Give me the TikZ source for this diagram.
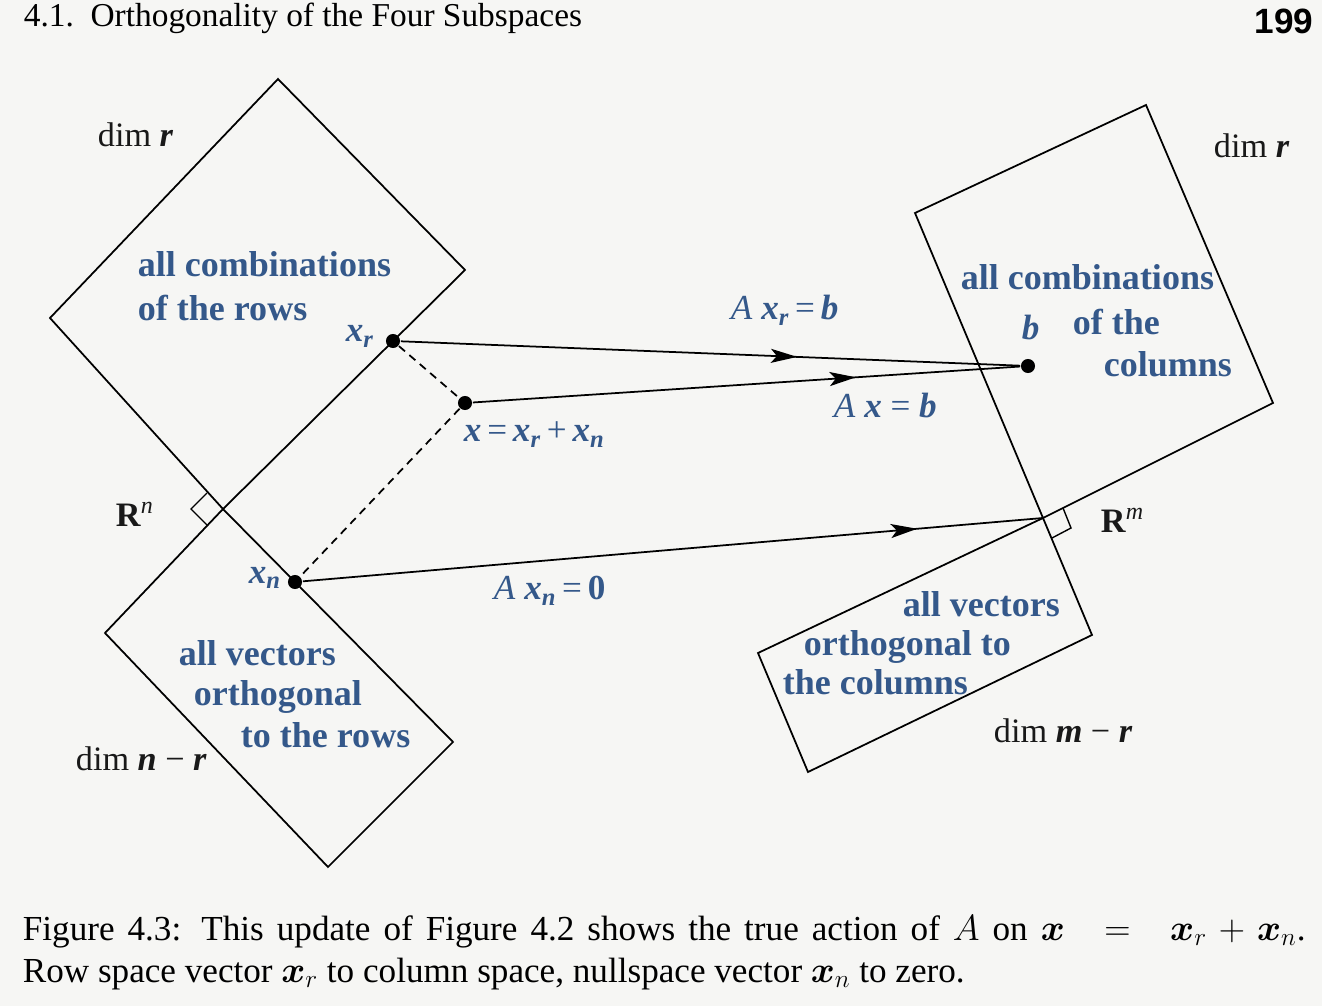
\documentclass[tikz,border=0pt]{standalone}
\usepackage{amsmath,bm}
\usepackage{fontspec}
\setmainfont{Liberation Serif}
\newfontfamily\pagesans{Liberation Sans}
\usetikzlibrary{arrows.meta,decorations.markings}
\definecolor{labblue}{RGB}{52,88,138}
\definecolor{paper}{RGB}{246,246,244}
\newcommand{\bvc}[1]{{\bfseries\itshape #1}}

\begin{document}
\begin{tikzpicture}[x=0.02cm,y=-0.02cm,line width=1pt,
    every node/.style={inner sep=0pt},
    lab/.style={text=labblue,font=\fontsize{20.5}{25}\selectfont\bfseries,anchor=base west},
    eqn/.style={text=labblue,font=\fontsize{20}{24}\selectfont,anchor=base west},
    dimlab/.style={text=black!90,font=\fontsize{19.5}{23}\selectfont,anchor=base west},
    dot/.style={circle,fill=black,minimum size=8pt},
    flow/.style={postaction={decorate},decoration={markings,mark=at position #1 with {\arrow{Stealth[length=15pt,width=8pt,inset=3.5pt]}}}}]
        \fill[paper] (0,0) rectangle (1322,1006);
        \useasboundingbox (0,0) rectangle (1322,1006);

        % row space and nullspace
        \coordinate (OL) at (223,509);
        \coordinate (rowR) at (465,270);
        \coordinate (rowT) at (278,79);
        \coordinate (rowL) at (50,318);
        \coordinate (nulR) at (453,742);
        \coordinate (nulB) at (328,867);
        \coordinate (nulL) at (105,633);
        \draw (OL) -- (rowR) -- (rowT) -- (rowL) -- cycle;
        \draw (OL) -- (nulR) -- (nulB) -- (nulL) -- cycle;
        \draw[line width=0.8pt] (207,493) -- (191,509) -- (207,525);

        % column space and left nullspace
        \coordinate (OR) at (1043,518);
        \coordinate (colL) at (915,213);
        \coordinate (colT) at (1146,105);
        \coordinate (colR) at (1273,403);
        \coordinate (lnuR) at (1092,635);
        \coordinate (lnuB) at (808,772);
        \coordinate (lnuL) at (758,653);
        \draw (OR) -- (colL) -- (colT) -- (colR) -- cycle;
        \draw (OR) -- (lnuR) -- (lnuB) -- (lnuL) -- cycle;
        \draw[line width=0.8pt] (1063,508) -- (1071,528) -- (1052,538);

        % vectors
        \node[dot] (xr) at (393,341) {};
        \node[dot] (x) at (465,403) {};
        \node[dot] (xn) at (295,582) {};
        \node[dot] (b) at (1028,366) {};
        \draw[dash pattern=on 4.5pt off 3.3pt] (xr) -- (x) -- (xn);
        \draw[flow=0.64] (xr) -- (b);
        \draw[flow=0.70] (x) -- (b);
        \draw[flow=0.83] (xn) -- (OR);

        \node[dimlab] (dimrow) at (97,147) {dim \bvc{r}};
        \node[dimlab] (dimcol) at (1213,158) {dim \bvc{r}};
        \node[dimlab] (dimnul) at (75,770) {dim \bvc{n} − \bvc{r}};
        \node[dimlab] (dimlnu) at (993,742) {dim \bvc{m} − \bvc{r}};
        \node[dimlab] (Rn) at (115,527) {\textbf{R}\textsuperscript{\textit{n}}};
        \node[dimlab] (Rm) at (1100,533) {\textbf{R}\textsuperscript{\textit{m}}};

        \node[lab] (rowa) at (137,277) {all combinations};
        \node[lab] (rowb) at (137,321) {of the rows};
        \node[lab] (cola) at (960,290) {all combinations};
        \node[lab] (colb) at (1072,335) {of the};
        \node[lab] (colc) at (1103,377) {columns};
        \node[lab] (nula) at (178,665) {all vectors};
        \node[lab] (nulb) at (193,705) {orthogonal};
        \node[lab] (nulc) at (240,747) {to the rows};
        \node[lab] (lnua) at (902,617) {all vectors};
        \node[lab] (lnub) at (803,655) {orthogonal to};
        \node[lab] (lnuc) at (782,694) {the columns};

        \node[eqn] (xrlab) at (345,342) {\bvc{x\textsubscript{r}}};
        \node[eqn] (xlab) at (463,442) {\bvc{x}\,=\,\bvc{x\textsubscript{r}}\,+\,\bvc{x\textsubscript{n}}};
        \node[eqn] (xnlab) at (248,583) {\bvc{x\textsubscript{n}}};
        \node[eqn] (blab) at (1021,340) {\bvc{b}};
        \node[eqn] (eqr) at (730,320) {\textit{A} \bvc{x\textsubscript{r}}\,=\,\bvc{b}};
        \node[eqn] (eqx) at (833,418) {\textit{A} \bvc{x} = \bvc{b}};
        \node[eqn] (eqn0) at (493,600) {\textit{A} \bvc{x\textsubscript{n}}\,=\,\textbf{0}};

        % page head and caption
        \node[anchor=base west,font=\fontsize{19}{23}\selectfont] (head) at (23,27) {4.1.\ \ Orthogonality of the Four Subspaces};
        \node[anchor=base east,font=\pagesans\fontsize{20}{24}\selectfont\bfseries] (page) at (1314,34) {199};
        \node[anchor=base west,font=\fontsize{20}{24}\selectfont] (capa) at (22,940)
            {\makebox[25.66cm][s]{Figure 4.3: This update of Figure 4.2 shows the true action of $A$ on $\boldsymbol{x}\;=\;\boldsymbol{x}_r+\boldsymbol{x}_n$.}};
        \node[anchor=base west,font=\fontsize{20}{24}\selectfont] (capb) at (22,982)
            {Row space vector $\boldsymbol{x}_r$ to column space, nullspace vector $\boldsymbol{x}_n$ to zero.};
    \end{tikzpicture}
\end{document}
